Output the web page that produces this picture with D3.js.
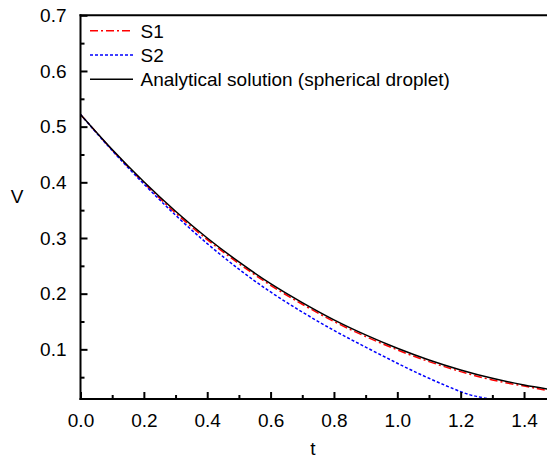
<!DOCTYPE html>
<html lang="en">
<head>
<meta charset="UTF-8">
<title>V vs t</title>
<style>
  body { margin: 0; background: #fff; }
  svg { display: block; }
  svg text { font-family: "Liberation Sans", Arial, sans-serif; fill: #000; }
  .tick text { font-size: 19px; }
  .label { font-size: 19px; }
  .legend text { font-size: 19px; }
</style>
</head>
<body>
<div id="chart"></div>
<script src="https://cdnjs.cloudflare.com/ajax/libs/d3/7.8.5/d3.min.js"></script>
<script>
  // values
  var tAnalytical = [0, 0.1, 0.2, 0.3, 0.4, 0.5, 0.6, 0.7, 0.8, 0.9, 1.0, 1.1, 1.2, 1.3, 1.4, 1.475];
  var vAnalytical = [0.522, 0.459, 0.401, 0.348, 0.300, 0.257, 0.218, 0.184, 0.153, 0.126, 0.102, 0.081, 0.063, 0.048, 0.036, 0.0287];

  var tS1 = [0, 0.1, 0.2, 0.3, 0.4, 0.5, 0.6, 0.7, 0.8, 0.9, 1.0, 1.1, 1.2, 1.3, 1.4, 1.475];
  var vS1 = [0.522, 0.458, 0.399, 0.345, 0.297, 0.254, 0.215, 0.181, 0.150, 0.123, 0.099, 0.078, 0.060, 0.045, 0.034, 0.026];

  var tS2 = [0, 0.1, 0.2, 0.3, 0.4, 0.5, 0.6, 0.7, 0.8, 0.9, 1.0, 1.1, 1.2, 1.25, 1.3, 1.35];
  var vS2 = [0.522, 0.457, 0.397, 0.341, 0.290, 0.244, 0.203, 0.167, 0.134, 0.104, 0.075, 0.048, 0.024, 0.0155, 0.0105, 0.009];

  var seriesNames = ['S1', 'S2', 'Analytical solution (spherical droplet)'];
  var xTicks = [0, 0.2, 0.4, 0.6, 0.8, 1.0, 1.2, 1.4];
  var xMinor = [0.1, 0.3, 0.5, 0.7, 0.9, 1.1, 1.3];
  var yTicks = [0.1, 0.2, 0.3, 0.4, 0.5, 0.6, 0.7];
  var yMinor = [0.05, 0.15, 0.25, 0.35, 0.45, 0.55, 0.65];

  var width = 547, height = 460;
  var plotLeft = 80.5, plotTop = 15.3, plotBottom = 399;

  var svg = d3.select('#chart').append('svg')
    .attr('width', width)
    .attr('height', height);

  var x = d3.scaleLinear().domain([0, 1.475]).range([plotLeft, 547.8]);
  var y = d3.scaleLinear().domain([0.0108, 0.7]).range([plotBottom, plotTop]);

  svg.append('clipPath').attr('id', 'clip')
    .append('rect')
    .attr('x', plotLeft).attr('y', plotTop)
    .attr('width', width - plotLeft).attr('height', plotBottom - plotTop);

  var zip = function(ts, vs) {
    return ts.map(function(t, i) { return [t, vs[i]]; });
  };

  var line = d3.line()
    .x(function(d) { return x(d[0]); })
    .y(function(d) { return y(d[1]); })
    .curve(d3.curveNatural);

  var curves = svg.append('g').attr('clip-path', 'url(#clip)');

  var styles = [
    {data: zip(tS1, vS1), color: '#ff0000', dash: '8,3,2,3'},
    {data: zip(tS2, vS2), color: '#0000ff', dash: '3,2'},
    {data: zip(tAnalytical, vAnalytical), color: '#000000', dash: null}
  ];

  styles.forEach(function(s) {
    curves.append('path')
      .attr('d', line(s.data))
      .attr('fill', 'none')
      .attr('stroke', s.color)
      .attr('stroke-width', 1.5)
      .attr('stroke-dasharray', s.dash);
  });

  // axes, ticks inward
  svg.append('g')
    .attr('transform', 'translate(0,' + plotBottom + ')')
    .call(d3.axisBottom(x).tickValues(xTicks).tickSize(-7).tickPadding(15).tickFormat(d3.format('.1f')));
  svg.append('g')
    .attr('transform', 'translate(0,' + plotBottom + ')')
    .call(d3.axisBottom(x).tickValues(xMinor).tickSize(-4).tickFormat(''));

  svg.append('g')
    .attr('transform', 'translate(' + plotLeft + ',0)')
    .call(d3.axisLeft(y).tickValues(yTicks).tickSize(-7).tickPadding(14).tickFormat(d3.format('.1f')));
  svg.append('g')
    .attr('transform', 'translate(' + plotLeft + ',0)')
    .call(d3.axisLeft(y).tickValues(yMinor).tickSize(-4).tickFormat(''));

  svg.selectAll('.domain').remove();
  svg.selectAll('.tick line').attr('stroke', '#000').attr('stroke-width', 2);
  svg.selectAll('.tick text').attr('fill', '#000');

  // frame
  svg.append('line').attr('x1', plotLeft).attr('x2', plotLeft).attr('y1', plotTop - 1).attr('y2', plotBottom + 1)
    .attr('stroke', '#000').attr('stroke-width', 2);
  svg.append('line').attr('x1', plotLeft - 1).attr('x2', width).attr('y1', plotBottom).attr('y2', plotBottom)
    .attr('stroke', '#000').attr('stroke-width', 2);
  svg.append('line').attr('x1', plotLeft - 1).attr('x2', width).attr('y1', plotTop).attr('y2', plotTop)
    .attr('stroke', '#000').attr('stroke-width', 2);

  svg.append('text').attr('class', 'label')
    .attr('x', 17).attr('y', 203).attr('text-anchor', 'middle').text('V');
  svg.append('text').attr('class', 'label')
    .attr('x', 313).attr('y', 455).attr('text-anchor', 'middle').text('t');

  // legend
  var legend = svg.append('g').attr('class', 'legend');
  var rowY = [30.7, 55, 79.3];
  seriesNames.forEach(function(name, i) {
    legend.append('line')
      .attr('x1', 90).attr('x2', 133)
      .attr('y1', rowY[i]).attr('y2', rowY[i])
      .attr('stroke', styles[i].color)
      .attr('stroke-width', 1.5)
      .attr('stroke-dasharray', styles[i].dash);
    legend.append('text')
      .attr('x', 140.5).attr('y', rowY[i] + 7)
      .text(name);
  });
</script>
</body>
</html>
